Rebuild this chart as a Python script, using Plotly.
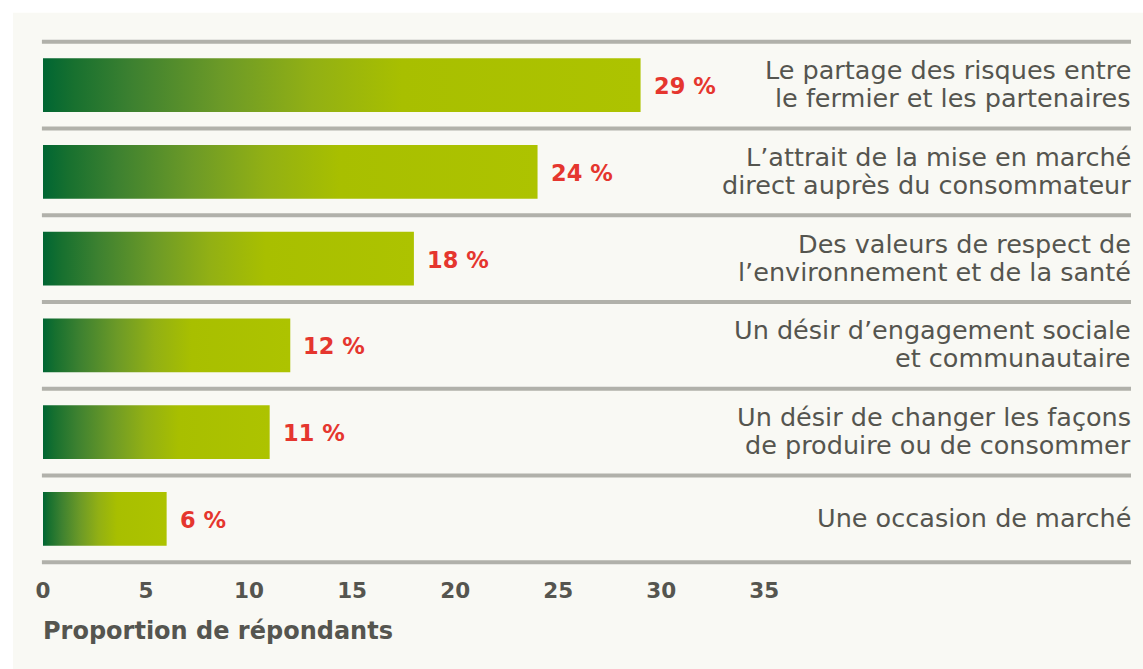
import plotly.graph_objects as go

categories = [
    "Le partage des risques entre<br>le fermier et les partenaires",
    "L’attrait de la mise en marché<br>direct auprès du consommateur",
    "Des valeurs de respect de<br>l’environnement et de la santé",
    "Un désir d’engagement sociale<br>et communautaire",
    "Un désir de changer les façons<br>de produire ou de consommer",
    "Une occasion de marché",
]
values = [29, 24, 18, 12, 11, 6]
value_labels = ["29 %", "24 %", "18 %", "12 %", "11 %", "6 %"]
tick_values = [0, 5, 10, 15, 20, 25, 30, 35]
axis_title = "Proportion de répondants"

FONT = "DejaVu Sans"
TEXT = "#55554f"
RED = "#e5362e"
LINE = "#b1b1aa"
PANEL = "#f9f9f4"
GRAD = [
    [0.0, "#006633"], [0.05, "#17702f"], [0.15, "#3d8130"], [0.3, "#6c9a27"],
    [0.45, "#92b014"], [0.6, "#a8bf00"], [1.0, "#adc300"],
]
HALF = 0.31
LINE_GAP = 28

fig = go.Figure()
for i, (v, lab) in enumerate(zip(values, value_labels)):
    fig.add_trace(go.Scatter(
        x=[0, v, v, 0, 0],
        y=[i - HALF, i - HALF, i + HALF, i + HALF, i - HALF],
        mode="lines", line=dict(width=0), fill="toself",
        fillgradient=dict(type="horizontal", colorscale=GRAD),
        hoverinfo="skip", showlegend=False,
    ))
    fig.add_annotation(x=v, y=i, text=f"<b>{lab}</b>", showarrow=False,
                       xanchor="left", xshift=11, yshift=-1,
                       font=dict(family=FONT, size=22.5, color=RED))

for i, c in enumerate(categories):
    parts = c.split("<br>")
    n = len(parts)
    for j, p in enumerate(parts):
        off = (j - (n - 1) / 2) * LINE_GAP
        fig.add_annotation(xref="paper", x=1.0, y=i, text=p, showarrow=False,
                           xanchor="right", yanchor="middle", yshift=-off + 1,
                           borderpad=0, xshift=1,
                           font=dict(family=FONT, size=25.5, color=TEXT))

shapes = [dict(type="rect", xref="paper", yref="paper", x0=-0.0276, x1=1.05,
               y0=-0.3, y1=1.0375, fillcolor=PANEL, line=dict(width=0), layer="below")]
for k in range(len(values) + 1):
    yk = k - 0.5
    shapes.append(dict(type="line", xref="paper", x0=-0.001, x1=1.0, y0=yk, y1=yk,
                       line=dict(color=LINE, width=4), layer="above"))

fig.add_annotation(xref="paper", yref="paper", x=0, y=-0.111, text=f"<b>{axis_title}</b>",
                   showarrow=False, xanchor="left", yanchor="middle", borderpad=0, xshift=-1,
                   font=dict(family=FONT, size=24, color=TEXT))

fig.update_layout(
    width=1143, height=669,
    margin=dict(l=43, r=12, t=33, b=98),
    paper_bgcolor="white", plot_bgcolor="rgba(0,0,0,0)",
    shapes=shapes,
    xaxis=dict(range=[0, 52.8], tickvals=tick_values, showgrid=False, zeroline=False,
               showline=False, ticks="", ticklabelstandoff=4,
               tickfont=dict(family=FONT, size=21.5, color=TEXT, weight="bold")),
    yaxis=dict(range=[5.6, -0.6], showgrid=False, zeroline=False, showticklabels=False,
               showline=False, ticks=""),
)
fig.write_html("out.html", config={"displayModeBar": False},
               post_script="document.body.style.margin='0';document.body.style.overflow='hidden';")
